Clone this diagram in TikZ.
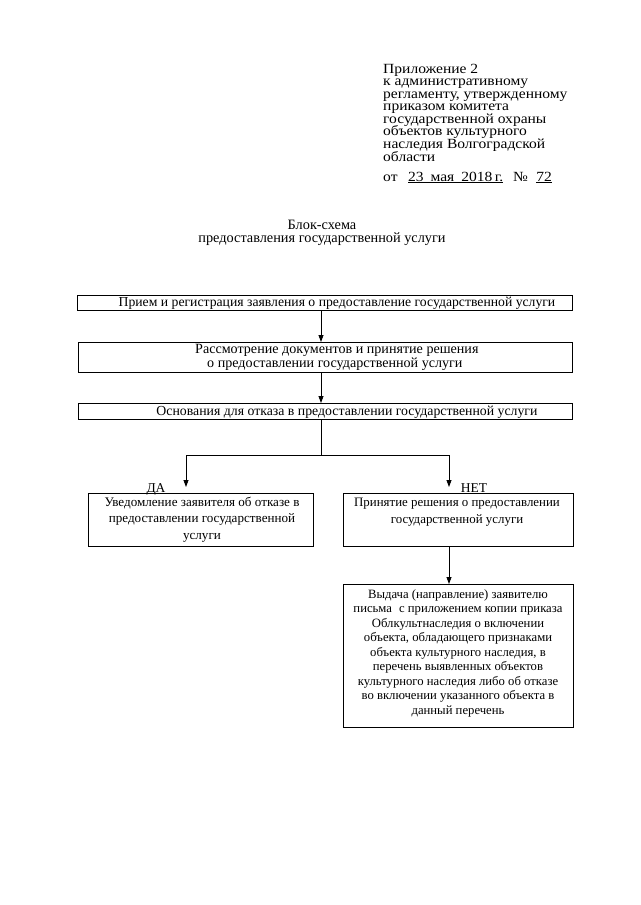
\documentclass[tikz,border=0pt]{standalone}
\usepackage{fontspec}
\setmainfont{Liberation Serif}
\newfontfamily\hdrfont[FakeStretch=1.11]{Liberation Serif}
\usetikzlibrary{arrows.meta}
\newcommand{\fs}[2]{\fontsize{#1}{#2}\selectfont\lineskiplimit=-30pt\relax}
\begin{document}
\begin{tikzpicture}[x=1pt,y=-1pt,
  box/.style={draw,line width=0.8pt,inner sep=0pt,anchor=north west},
  txt/.style={inner sep=0pt,align=center,anchor=base},
  hdr/.style={inner sep=0pt,align=left,anchor=base west},
  arr/.style={line width=0.8pt,-{Triangle[length=7pt,width=5pt]}},
  ln/.style={line width=0.8pt}]
\useasboundingbox (0,0) rectangle (640,905);
% header
\node[hdr,font=\hdrfont\fs{14}{12.55}] (h1) at (383,161) {Приложение 2\\к административному\\регламенту, утвержденному\\приказом комитета\\государственной охраны\\объектов культурного\\наследия Волгоградской\\области};
\node[hdr,font=\hdrfont\fs{14}{12.6}] (h2) at (383,181) {от\hspace{0.75em}\underline{23\hspace{0.5em}мая\hspace{0.5em}2018\,г.}\hspace{0.7em}№\hspace{0.6em}\underline{72}};
% title
\node[txt,font=\fs{14.3}{13}] (title) at (322,242) {Блок-схема\\предоставления государственной услуги};
% boxes
\node[box,minimum width=495pt,minimum height=15pt] (b1) at (77,295) {};
\node[txt,font=\fs{13.7}{15}] (t1) at (337,306) {Прием и регистрация заявления о предоставление государственной услуги};
\node[box,minimum width=494pt,minimum height=30pt] (b2) at (78,342) {};
\node[hdr,font=\fs{14.1}{14}] (t2) at (195,367) {Рассмотрение документов и принятие решения\\\hspace*{12pt}о предоставлении государственной услуги};
\node[box,minimum width=494pt,minimum height=16pt] (b3) at (78,403) {};
\node[txt,font=\fs{13.8}{15}] (t3) at (347,415) {Основания для отказа в предоставлении государственной услуги};
\node[box,minimum width=225pt,minimum height=53pt] (b4) at (88,493) {};
\node[txt,font=\fs{13.1}{16.2}] (t4) at (202,539) {Уведомление заявителя об отказе в\\предоставлении государственной\\услуги};
\node[box,minimum width=230pt,minimum height=53pt] (b5) at (343,493) {};
\node[txt,font=\fs{12.9}{16.5}] (t5) at (457,523) {Принятие решения о предоставлении\\государственной услуги};
\node[box,minimum width=230pt,minimum height=143pt] (b6) at (343,584) {};
\node[txt,font=\fs{12.7}{14.5}] (t6) at (458,714) {Выдача (направление) заявителю\\письма\hspace{0.3em} с приложением копии приказа\\Облкультнаследия о включении\\объекта, обладающего признаками\\объекта культурного наследия, в\\перечень выявленных объектов\\культурного наследия либо об отказе\\во включении указанного объекта в\\данный перечень};
\node[txt,font=\fs{13.5}{15}] (da) at (156,492) {ДА};
\node[txt,font=\fs{13.5}{15}] (net) at (474,492) {НЕТ};
% connectors
\coordinate (c) at (321,0);
\coordinate (split) at (321,455);
\coordinate (lft) at (186,455);
\coordinate (rgt) at (449,455);
\coordinate (le) at (186,487);
\coordinate (re) at (449,487);
\draw[arr] (b1.south -| c) -- (b2.north -| c);
\draw[arr] (b2.south -| c) -- (b3.north -| c);
\draw[ln] (b3.south -| c) -- (split);
\draw[ln] (lft) -- (rgt);
\draw[arr] (lft) -- (le);
\draw[arr] (rgt) -- (re);
\draw[arr] (b5.south -| rgt) -- (b6.north -| rgt);
\end{tikzpicture}
\end{document}
